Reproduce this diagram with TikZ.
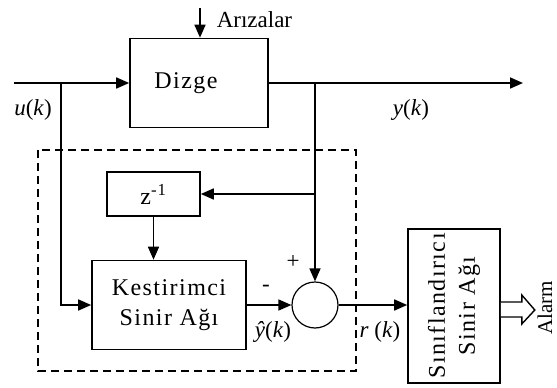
\documentclass[tikz,border=0pt]{standalone}
\usepackage{fontspec}
\setmainfont{Liberation Serif}
\newfontfamily\boxfont[LetterSpace=6]{Liberation Serif}
\usetikzlibrary{arrows.meta,calc}
\begin{document}
\begin{tikzpicture}[x=1pt,y=-1pt,
  line width=1.6pt,
  >={Triangle[length=13pt,width=11pt]},
  box/.style={draw,rectangle,inner sep=0pt,align=center,font=\boxfont\fontsize{24}{30}\selectfont},
  lbl/.style={inner sep=0pt,font=\fontsize{23}{26}\selectfont},
  dashbox/.style={line width=1.3pt,dash pattern=on 8pt off 5pt}]
\useasboundingbox[fill=white] (0,0) rectangle (557,388);
% blocks
\node[box,minimum width=138pt,minimum height=89pt] (dizge) at (199,83) {\hspace*{-26pt}Dizge};
\node[box,minimum width=93pt,minimum height=44pt] (z) at (153.5,194) {z\textsuperscript{-1}};
\node[box,minimum width=154pt,minimum height=89pt] (kest) at (169,305) {Kestirimci\\Sinir Ağı};
\node[draw,circle,minimum size=46pt,inner sep=0pt,line width=1.2pt] (sum) at (315,305) {};
\node[box,rotate=90,minimum width=154pt,minimum height=92pt] (class) at (454,306) {Sınıflandırıcı\\Sinir Ağı};
% dashed frame
\draw[dashbox] (38,150) rectangle (356,371);
% coordinates
\coordinate (in) at (14,83);
\coordinate (ubr) at (61,83);
\coordinate (out) at (523,83);
\coordinate (ybr) at (315,83);
\coordinate (zbr) at (315,194);
\coordinate (fault) at (200,8);
% connectors
\draw[->] (fault) -- (fault |- dizge.north);
\draw[->] (in) -- (dizge.west);
\draw[->] (dizge.east) -- (out);
\draw[->] (ubr) |- (kest.west);
\draw[->] (ybr) -- (sum.north);
\draw[->] (zbr) -- (z.east);
\draw[->] (z.south) -- (z.south |- kest.north);
\draw[->] (kest.east) -- (sum.west);
\draw[->] (sum.east) -- (sum.east -| class.north);
% hollow output arrow
\draw[line width=1.4pt,fill=white] ($(class.south)+(0,-4)$) -- ++(21,0) -- ++(0,-7) -- ++(13,15) -- ++(-13,14) -- ++(0,-7) -- ++(-21,0);
% labels
\node[lbl,anchor=west] (ariza) at (216,20) {Arızalar};
\node[lbl] (u) at (33,110) {\textit{u}(\textit{k})};
\node[lbl] (y) at (411,110) {\textit{y}(\textit{k})};
\node[lbl] (minus) at (266,288) {-};
\node[lbl] (plus) at (293,262) {+};
\node[lbl] (yhat) at (273,332) {\textit{ŷ}(\textit{k})};
\node[lbl] (r) at (380,332) {\textit{r} (\textit{k})};
\node[lbl,font=\fontsize{21}{24}\selectfont,rotate=90,anchor=south] (alarm) at (553,308) {Alarm};
\end{tikzpicture}
\end{document}
